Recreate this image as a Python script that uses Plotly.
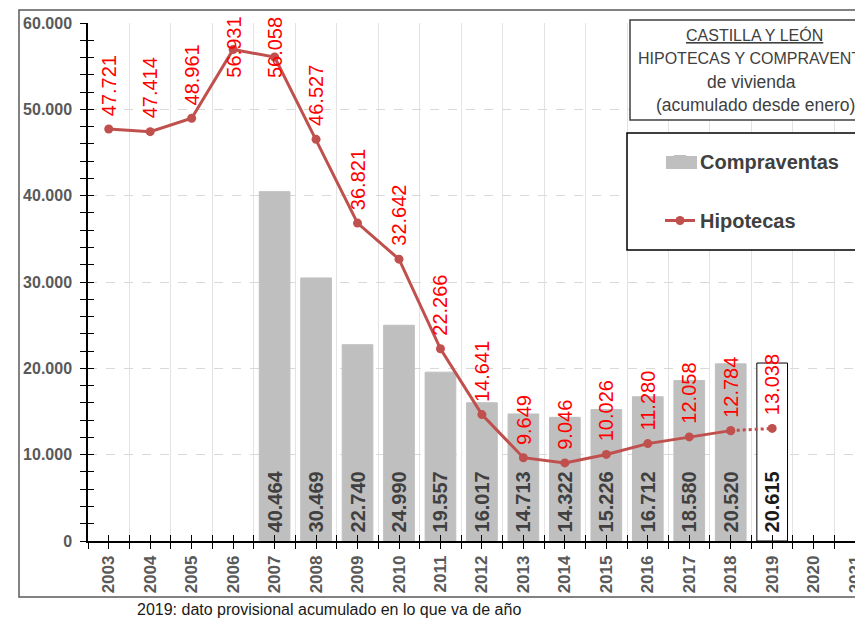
import plotly.graph_objects as go

# ---- data ----
years_axis = list(range(2003, 2022))
bar_years = [2007, 2008, 2009, 2010, 2011, 2012, 2013, 2014, 2015, 2016, 2017, 2018, 2019]
compraventas = [40464, 30469, 22740, 24990, 19557, 16017, 14713, 14322, 15226, 16712, 18580, 20520, 20615]
hip_years = [2003, 2004, 2005, 2006, 2007, 2008, 2009, 2010, 2011, 2012, 2013, 2014, 2015, 2016, 2017, 2018]
hipotecas = [47721, 47414, 48961, 56931, 56058, 46527, 36821, 32642, 22266, 14641, 9649, 9046, 10026, 11280, 12058, 12784]
prov_year = 2019
prov_hipotecas = 13038

title_lines = ["<u>CASTILLA Y LEÓN</u>", "HIPOTECAS Y COMPRAVENTAS", "de vivienda", "(acumulado desde enero)"]
footnote = "2019: dato provisional acumulado en lo que va de año"

# page body has an 8px margin: figure pixel = screen pixel - OFF
OFF = 8
W, H = 863, 618
# plot area in screen pixels: x 88..863, y 23..541
SX0, SX1, SY0, SY1 = 88, 863, 23, 541
ML, MT = SX0 - OFF, SY0 - OFF
MR = W - (SX1 - OFF)
MB = H - (SY1 - OFF)
PW, PH = SX1 - SX0, SY1 - SY0
YMAX = 60000
XRANGE = [2002.5, 2021.19]


def fmt(v):
    return f"{v:,}".replace(",", ".")


def sx(px):  # screen x -> paper
    return (px - SX0) / PW


def sy(py):  # screen y -> paper
    return (SY1 - py) / PH


LINE_COL = "#c0504d"
GRAY_TXT = "#595959"
BAR_COL = "#bfbfbf"

fig = go.Figure()

bar_colors = [BAR_COL] * (len(bar_years) - 1) + ["#ffffff"]
bar_lines = [BAR_COL] * (len(bar_years) - 1) + ["#000000"]
bar_txt = ["#404040"] * (len(bar_years) - 1) + ["#1a1a1a"]

fig.add_trace(go.Bar(
    x=bar_years, y=compraventas, name="Compraventas",
    width=0.74,
    marker=dict(color=bar_colors, line=dict(color=bar_lines, width=1)),
    text=["\u00a0" + fmt(v) for v in compraventas],
    textposition="inside", insidetextanchor="start", textangle=-90,
    textfont=dict(family="Liberation Sans", size=20, color=bar_txt, weight="bold"),
    legendgroup="a", cliponaxis=False,
))

fig.add_trace(go.Scatter(
    x=hip_years, y=hipotecas, name="Hipotecas", mode="lines+markers",
    line=dict(color=LINE_COL, width=3), marker=dict(size=9, color=LINE_COL),
    legendgroup="b",
))
fig.add_trace(go.Scatter(
    x=[hip_years[-1], prov_year], y=[hipotecas[-1], prov_hipotecas], mode="lines+markers",
    line=dict(color=LINE_COL, width=3, dash="dot"), marker=dict(size=9, color=LINE_COL),
    showlegend=False, legendgroup="b",
))
# invisible trace on the overlay axes (so their inner tick marks are drawn)
fig.add_trace(go.Scatter(x=[XRANGE[0]], y=[0], xaxis="x2", yaxis="y2", mode="markers",
                         marker=dict(opacity=0), showlegend=False, hoverinfo="skip"))

# red labels
annotations = []
all_hy = hip_years + [prov_year]
all_hv = hipotecas + [prov_hipotecas]
for yr, v in zip(all_hy, all_hv):
    ypx = SY1 - v / YMAX * PH
    top = ypx - 13 - 62
    base = dict(x=yr, xref="x", text=fmt(v), textangle=-90, showarrow=False,
                font=dict(family="Liberation Sans", size=20, color="#ff0000"))
    if top < 15:
        annotations.append(dict(**base, y=sy(15), yref="paper", yanchor="top"))
    else:
        annotations.append(dict(**base, y=v, yref="y", yanchor="bottom", yshift=11))

# title lines
title_pos = [(754, 35, "center", 16), (636, 59, "left", 16), (751, 82, "center", 17.5), (755, 105, "center", 17.5)]
for t, (tx, ty, anc, fs) in zip(title_lines, title_pos):
    annotations.append(dict(x=sx(tx), y=sy(ty), xref="paper", yref="paper",
                            text=t, showarrow=False, xanchor=anc, yanchor="middle",
                            font=dict(family="Liberation Sans", size=fs, color="#404040")))

annotations.append(dict(x=sx(135), y=sy(609), xref="paper", yref="paper",
                        text=footnote, showarrow=False, xanchor="left", yanchor="middle",
                        font=dict(family="Liberation Sans", size=16, color="#1a1a1a")))

shapes = [
    # outer chart border
    dict(type="rect", xref="paper", yref="paper",
         x0=sx(19), x1=sx(900), y0=sy(597), y1=sy(10),
         line=dict(color="#595959", width=1.5), fillcolor="rgba(0,0,0,0)", layer="above"),
    # title box
    dict(type="rect", xref="paper", yref="paper",
         x0=sx(630), x1=sx(900), y0=sy(120), y1=sy(20),
         line=dict(color="#404040", width=1.5), fillcolor="#ffffff", layer="above"),
    # legend box
    dict(type="rect", xref="paper", yref="paper",
         x0=sx(627), x1=sx(900), y0=sy(250), y1=sy(133),
         line=dict(color="#000000", width=1.5), fillcolor="#ffffff", layer="above"),
    # widened legend swatch for the bar series
    dict(type="rect", xref="paper", yref="paper",
         x0=sx(666), x1=sx(697), y0=sy(169), y1=sy(156),
         line=dict(width=0), fillcolor=BAR_COL, layer="above"),
]

tick_common = dict(tickcolor="black", tickwidth=1)

fig.update_layout(
    width=W, height=H,
    margin=dict(l=ML, r=MR, t=MT, b=MB, autoexpand=False),
    paper_bgcolor="white", plot_bgcolor="white",
    separators=",.",
    showlegend=True,
    legend=dict(x=sx(660), y=sy(142), xanchor="left", yanchor="top",
                bgcolor="rgba(0,0,0,0)", borderwidth=0,
                font=dict(family="Liberation Sans", size=20, color="#404040", weight="bold"),
                traceorder="grouped", tracegroupgap=30, itemwidth=30),
    annotations=annotations,
    shapes=shapes,
    xaxis=dict(
        automargin=False,
        range=XRANGE, tickmode="array", tickvals=years_axis,
        ticktext=[str(y) for y in years_axis], tickangle=-90,
        ticks="outside", ticklen=6, showgrid=False, **tick_common,
        showline=True, linecolor="black", linewidth=1.5, zeroline=False,
        tickfont=dict(family="Liberation Sans", size=17, color=GRAY_TXT, weight="bold"),
        minor=dict(tick0=2002.5, dtick=1, ticks="outside", ticklen=6, tickcolor="black",
                   showgrid=True, gridcolor="#e3e3e3", gridwidth=1),
    ),
    yaxis=dict(
        automargin=False,
        range=[0, YMAX], dtick=10000, tickformat=",.0f",
        ticks="outside", ticklen=6, ticklabelstandoff=5, **tick_common,
        showgrid=True, gridcolor="#d9d9d9", griddash="dash", gridwidth=1,
        showline=True, linecolor="black", linewidth=1.5, zeroline=False,
        tickfont=dict(family="Liberation Sans", size=16, color=GRAY_TXT, weight="bold"),
        minor=dict(dtick=2000, ticks="outside", ticklen=6, tickcolor="black", showgrid=False),
    ),
    xaxis2=dict(
        overlaying="x", anchor="y2", automargin=False, range=XRANGE,
        tickmode="array", tickvals=years_axis, showticklabels=False,
        ticks="inside", ticklen=6, showgrid=False, showline=False, zeroline=False, **tick_common,
        minor=dict(tick0=2002.5, dtick=1, ticks="inside", ticklen=6, tickcolor="black", showgrid=False),
    ),
    yaxis2=dict(
        overlaying="y", anchor="x2", automargin=False, range=[0, YMAX], dtick=10000,
        showticklabels=False, ticks="inside", ticklen=6, showgrid=False, showline=False,
        zeroline=False, **tick_common,
        minor=dict(dtick=2000, ticks="inside", ticklen=6, tickcolor="black", showgrid=False),
    ),
)

fig.write_html("out.html")
